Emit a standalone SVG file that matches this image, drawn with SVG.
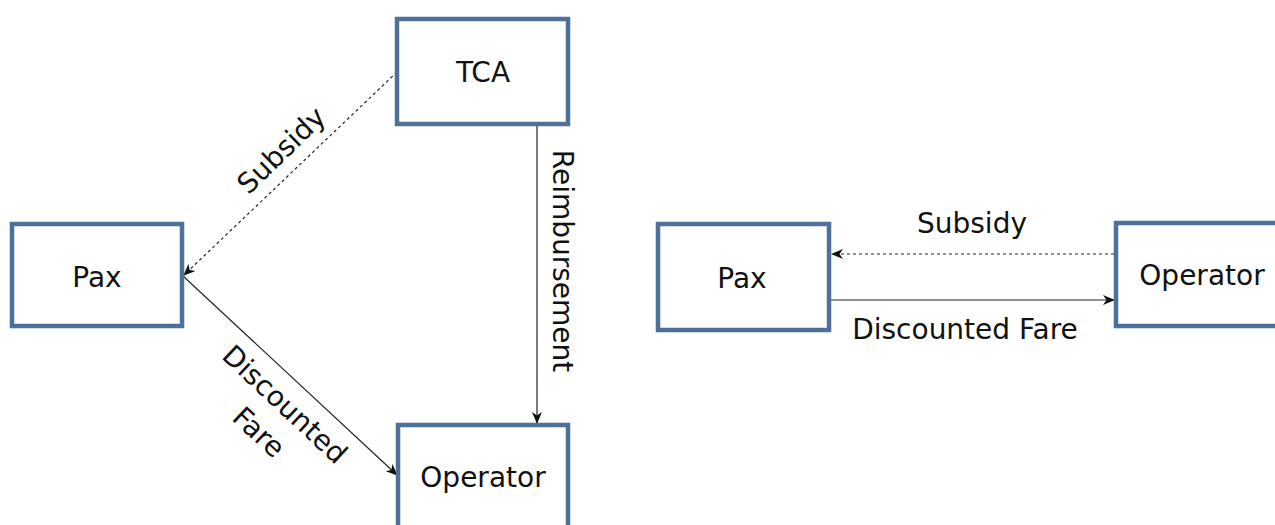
<svg xmlns="http://www.w3.org/2000/svg" width="1275" height="525" viewBox="0 0 1275 525">
<style>
.box{fill:#fff;stroke:#4d7198;stroke-width:4.5}
.lbl{font-family:"DejaVu Sans",Verdana,sans-serif;font-size:28px;fill:#111}
.con{stroke:#222;stroke-width:1.2;fill:none}
.dash{stroke-dasharray:3,3}
</style>
<defs>
<marker id="ah" viewBox="0 0 12 10" refX="11" refY="5" markerWidth="12" markerHeight="10" markerUnits="userSpaceOnUse" orient="auto">
<path d="M0,0 L12,5 L0,10 L3.5,5 Z" fill="#111"/>
</marker>
</defs>
<rect width="1275" height="525" fill="#fff"/>
<g id="connectors">
<line class="con dash" x1="397" y1="72" x2="184" y2="275" marker-end="url(#ah)"/>
<line class="con" x1="183" y1="276" x2="397" y2="475" marker-end="url(#ah)"/>
<line class="con" x1="537" y1="126" x2="537" y2="423" marker-end="url(#ah)"/>
<line class="con dash" x1="1114" y1="254" x2="832" y2="254" marker-end="url(#ah)"/>
<line class="con" x1="831" y1="300" x2="1114" y2="300" marker-end="url(#ah)"/>
<text class="lbl" text-anchor="middle" transform="translate(281,150) rotate(-44)" y="10">Subsidy</text>
<text class="lbl" text-anchor="middle" transform="translate(563,261) rotate(90)" y="10">Reimbursement</text>
<g transform="translate(272,418) rotate(43)">
<text class="lbl" text-anchor="middle" y="-9">Discounted</text>
<text class="lbl" text-anchor="middle" y="29">Fare</text>
</g>
<text class="lbl" text-anchor="middle" x="972" y="233">Subsidy</text>
<text class="lbl" text-anchor="middle" x="965" y="339">Discounted Fare</text>
</g>
<g id="tca">
<rect class="box" x="397" y="19" width="171" height="105"/>
<text class="lbl" text-anchor="middle" x="483" y="82">TCA</text>
</g>
<g id="pax-left">
<rect class="box" x="12" y="224" width="170" height="102"/>
<text class="lbl" text-anchor="middle" x="97" y="287">Pax</text>
</g>
<g id="operator-left">
<rect class="box" x="398" y="425" width="170" height="120"/>
<text class="lbl" text-anchor="middle" x="483" y="487">Operator</text>
</g>
<g id="pax-right">
<rect class="box" x="658" y="224" width="171" height="106"/>
<text class="lbl" text-anchor="middle" x="742" y="288">Pax</text>
</g>
<g id="operator-right">
<rect class="box" x="1116" y="223" width="175" height="103"/>
<text class="lbl" text-anchor="middle" x="1202" y="285">Operator</text>
</g>
</svg>
